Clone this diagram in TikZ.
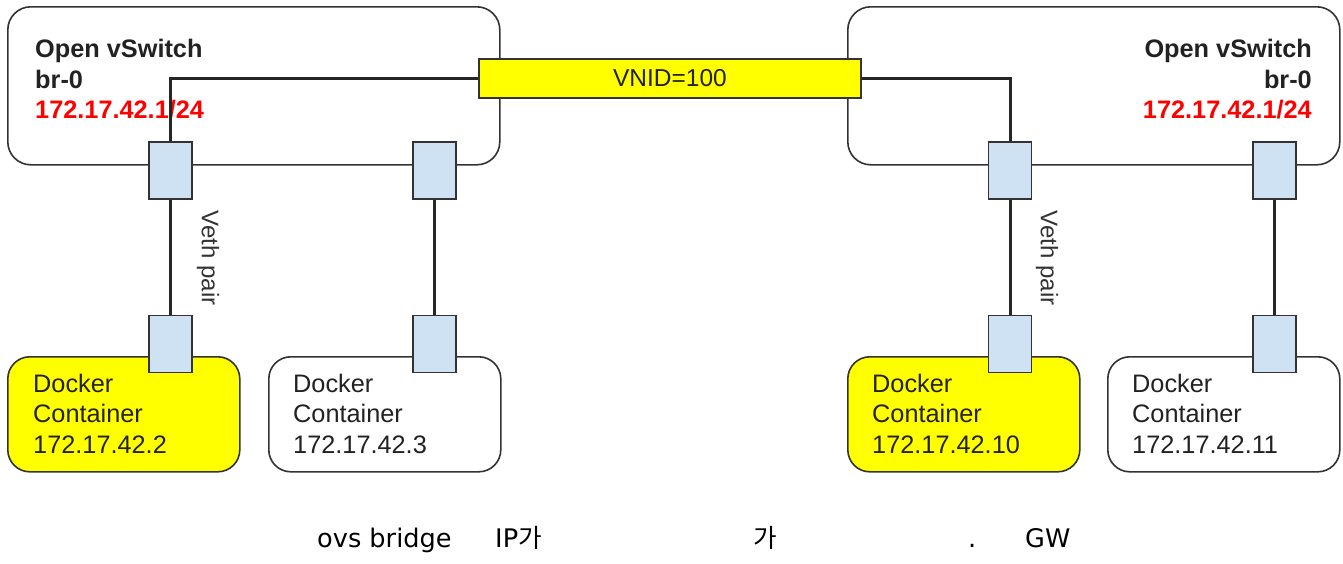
\documentclass[tikz,border=0pt]{standalone}
\usepackage{fontspec}
\setmainfont{Liberation Sans}
\newfontfamily\dejavu{DejaVu Sans}
\newfontfamily\kor{Noto Sans CJK KR}
\definecolor{portblue}{HTML}{CFE2F3}
\definecolor{ylw}{HTML}{FFFF00}
\definecolor{edge}{HTML}{333333}
\definecolor{txt}{HTML}{222222}
\definecolor{ipred}{HTML}{FF0000}
\tikzset{
  x=1pt, y=-1pt,
  switchbox/.style={draw=edge, line width=1.6pt, rounded corners=23pt, fill=white,
    minimum width=492pt, minimum height=158pt, inner sep=0pt, anchor=north west},
  dockbox/.style={draw=edge, line width=1.6pt, rounded corners=22pt,
    minimum width=232pt, minimum height=115pt, inner sep=0pt, anchor=north west},
  port/.style={draw=edge, line width=1.6pt, fill=portblue,
    minimum width=43pt, minimum height=57pt, inner sep=0pt},
  vnidbox/.style={draw=edge, line width=1.6pt, fill=ylw,
    minimum width=382pt, minimum height=39pt, inner sep=0pt,
    font=\fontsize{24.5}{28}\selectfont, text=txt},
  wire/.style={draw=black!85, line width=3pt},
  swtext/.style={font=\fontsize{25.3}{29}\selectfont\bfseries, text=txt, inner sep=0pt},
  swip/.style={font=\fontsize{25.3}{29}\selectfont\bfseries, text=ipred, inner sep=0pt},
  dtext/.style={font=\fontsize{25.3}{29}\selectfont, text=txt, inner sep=0pt, anchor=base west},
  veth/.style={font=\fontsize{24}{27}\selectfont, text=edge, rotate=-90, inner sep=0pt},
  note/.style={font=\fontsize{25.6}{29}\dejavu, text=black, inner sep=0pt, anchor=base west}
}
\begin{document}
\begin{tikzpicture}
\useasboundingbox (0,0) rectangle (1343,563);
\fill[white] (0,0) rectangle (1343,563);

% switch boxes
\node[switchbox] (sw1) at (7,6) {};
\node[switchbox] (sw2) at (847,6) {};

% docker boxes
\node[dockbox, fill=ylw] (d1) at (7,356) {};
\node[dockbox, fill=white] (d2) at (268,356) {};
\node[dockbox, fill=ylw] (d3) at (847,356) {};
\node[dockbox, fill=white] (d4) at (1107,356) {};

% switch texts
\node[swtext, anchor=base west] (s1a) at (35,57) {Open vSwitch};
\node[swtext, anchor=base west] (s1b) at (35,88) {br-0};
\node[swip, anchor=base west] (s1c) at (35,118) {172.17.42.1/24};
\node[swtext, anchor=base east] (s2a) at (1312,57) {Open vSwitch};
\node[swtext, anchor=base east] (s2b) at (1312,88) {br-0};
\node[swip, anchor=base east] (s2c) at (1312,118) {172.17.42.1/24};

% docker texts
\node[dtext] (t1a) at (33,392) {Docker};
\node[dtext] (t1b) at (33,422) {Container};
\node[dtext] (t1c) at (33,453) {172.17.42.2};
\node[dtext] (t2a) at (293,392) {Docker};
\node[dtext] (t2b) at (293,422) {Container};
\node[dtext] (t2c) at (293,453) {172.17.42.3};
\node[dtext] (t3a) at (872,392) {Docker};
\node[dtext] (t3b) at (872,422) {Container};
\node[dtext] (t3c) at (872,453) {172.17.42.10};
\node[dtext] (t4a) at (1132,392) {Docker};
\node[dtext] (t4b) at (1132,422) {Container};
\node[dtext] (t4c) at (1132,453) {172.17.42.11};

% VNID box
\node[vnidbox] (vnid) at (670,78.5) {VNID=100};

% ports
\node[port] (p1) at (170.5,170.5) {};
\node[port] (p2) at (434.5,170.5) {};
\node[port] (p3) at (1010,170.5) {};
\node[port] (p4) at (1274.5,170.5) {};
\node[port] (q1) at (170.5,344) {};
\node[port] (q2) at (434.5,344) {};
\node[port] (q3) at (1010,344) {};
\node[port] (q4) at (1274.5,344) {};

% wires
\path[wire] (vnid.west) -| (p1.north);
\path[wire] (vnid.east) -| (p3.north);
\path[wire] (p1.south) -- (q1.north);
\path[wire] (p2.south) -- (q2.north);
\path[wire] (p3.south) -- (q3.north);
\path[wire] (p4.south) -- (q4.north);

% veth labels
\node[veth] (v1) at (208,258) {Veth pair};
\node[veth] (v2) at (1047,258) {Veth pair};

% bottom note
\node[note] (n1) at (317,547) {ovs bridge};
\node[note] (n2) at (495,547) {IP{\kor 가}};
\node[note] (n3) at (753,547) {{\kor 가}};
\node[note] (n4) at (968,547) {.};
\node[note] (n5) at (1025,547) {GW};
\end{tikzpicture}
\end{document}
